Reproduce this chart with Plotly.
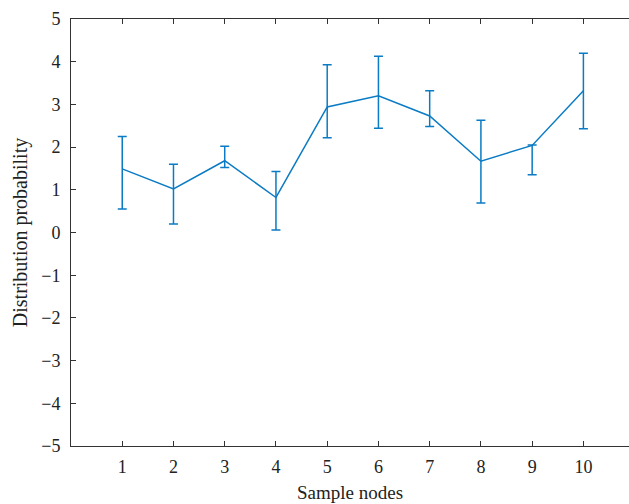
import plotly.graph_objects as go

# Sample nodes and the measured distribution probability at each
nodes = [1, 2, 3, 4, 5, 6, 7, 8, 9, 10]
mean_prob = [1.49, 1.02, 1.68, 0.82, 2.94, 3.20, 2.73, 1.67, 2.04, 3.32]
upper_bound = [2.25, 1.60, 2.02, 1.43, 3.93, 4.13, 3.32, 2.63, 2.05, 4.20]
lower_bound = [0.55, 0.20, 1.52, 0.06, 2.22, 2.44, 2.48, 0.69, 1.35, 2.43]

err_plus = [u - m for u, m in zip(upper_bound, mean_prob)]
err_minus = [m - l for m, l in zip(mean_prob, lower_bound)]

line_color = "#0a7bc4"
font_family = "Liberation Serif, DejaVu Serif, serif"

fig = go.Figure(
    go.Scatter(
        x=nodes,
        y=mean_prob,
        mode="lines",
        line=dict(color=line_color, width=1.5),
        error_y=dict(
            type="data",
            symmetric=False,
            array=err_plus,
            arrayminus=err_minus,
            color=line_color,
            thickness=1.5,
            width=4.5,
        ),
        showlegend=False,
    )
)

axis_common = dict(
    showline=True,
    linecolor="#333333",
    linewidth=1,
    ticks="inside",
    ticklen=5,
    tickcolor="#333333",
    showgrid=False,
    zeroline=False,
    tickfont=dict(family=font_family, size=18, color="#222222"),
)

fig.update_layout(
    width=629,
    height=504,
    margin=dict(l=71, r=0, t=19, b=58),
    paper_bgcolor="white",
    plot_bgcolor="white",
    font=dict(family=font_family, color="#222222"),
    xaxis=dict(
        range=[0, 10.89],
        tickvals=nodes,
        mirror="ticks",
        ticklabelstandoff=4,
        title=dict(text="Sample nodes", font=dict(family=font_family, size=19), standoff=10),
        **axis_common,
    ),
    yaxis=dict(
        range=[-5, 5],
        tickvals=list(range(-5, 6)),
        ticklabelstandoff=6,
        title=dict(text="Distribution probability", font=dict(family=font_family, size=20), standoff=8),
        **axis_common,
    ),
)

fig.write_html("out.html")
